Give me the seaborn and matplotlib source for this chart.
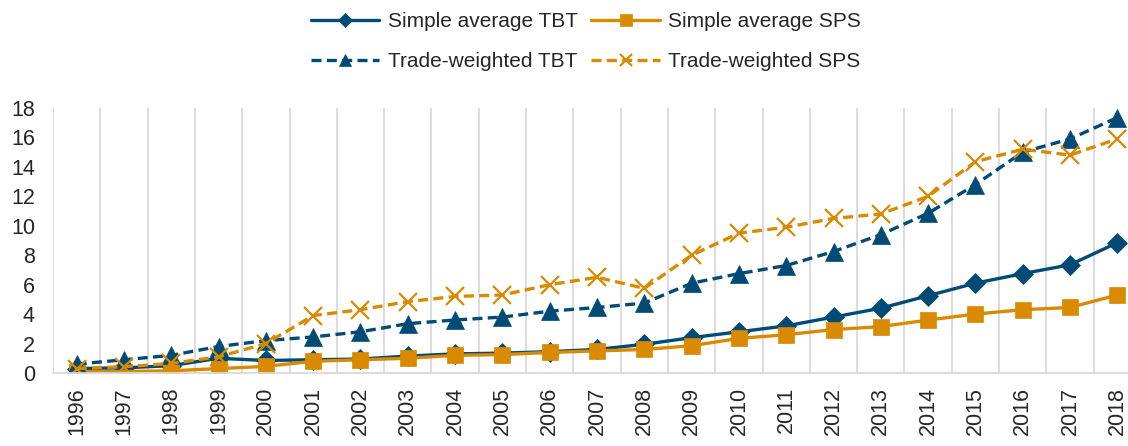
import pandas as pd
import matplotlib
matplotlib.use("Agg")
import matplotlib.pyplot as plt
import seaborn as sns

# ===============================
# DATA
# ===============================
years = [str(y) for y in range(1996, 2019)]
simple_tbt = [0.3, 0.35, 0.5, 1.0, 0.85, 0.9, 0.95, 1.15, 1.3, 1.35, 1.45, 1.6,
              1.95, 2.4, 2.8, 3.2, 3.8, 4.4, 5.25, 6.1, 6.75, 7.35, 8.85]
simple_sps = [0.1, 0.1, 0.15, 0.3, 0.45, 0.8, 0.9, 1.0, 1.2, 1.25, 1.4, 1.5,
              1.6, 1.85, 2.35, 2.6, 2.95, 3.15, 3.6, 4.0, 4.3, 4.45, 5.3]
tw_tbt = [0.6, 0.9, 1.2, 1.8, 2.2, 2.45, 2.8, 3.35, 3.6, 3.8, 4.2, 4.45,
          4.75, 6.1, 6.75, 7.3, 8.25, 9.4, 10.85, 12.8, 15.0, 15.9, 17.35]
tw_sps = [0.3, 0.43, 0.65, 1.1, 2.0, 3.9, 4.3, 4.85, 5.2, 5.3, 6.0, 6.5,
          5.75, 8.0, 9.5, 9.9, 10.5, 10.8, 12.0, 14.35, 15.2, 14.8, 15.9]

series_names = ["Simple average TBT", "Simple average SPS",
                "Trade-weighted TBT", "Trade-weighted SPS"]

BLUE = "#004B75"
ORANGE = "#D98A00"

# ===============================
# STYLE
# ===============================
sns.set_style("white")
plt.rcParams["font.family"] = ["Liberation Sans", "DejaVu Sans"]
plt.rcParams["font.size"] = 15

fig = plt.figure(figsize=(11.28, 4.46), dpi=100)
W, H = 1128, 446
ax = fig.add_axes([53 / W, (H - 373) / H, (1141 - 53) / W, (373 - 108) / H])

pos = list(range(len(years)))
styles = [
    (simple_tbt, BLUE, "D", 10, "-"),
    (simple_sps, ORANGE, "s", 12, "-"),
    (tw_tbt, BLUE, "^", 13, (3, 1.6)),
    (tw_sps, ORANGE, "x", 13, (3, 1.6)),
]

for name, (vals, col, mk, ms, ls) in zip(series_names, styles):
    df = pd.DataFrame({"x": pos, "y": vals})
    sns.lineplot(data=df, x="x", y="y", ax=ax, color=col, marker=mk,
                 markersize=ms, markeredgecolor=col,
                 markeredgewidth=1.6 if mk == "x" else 0.5,
                 linewidth=2.4, label=name)
    if ls != "-":
        ax.lines[-1].set_dashes(ls)

ax.set_ylim(0, 18)
ax.set_yticks(range(0, 19, 2))
ax.set_xlim(-0.5, 22.5)
ax.set_xticks(pos)
ax.set_xticklabels(years, rotation=90, fontsize=15.5)
ax.set_xticks([p - 0.5 for p in pos] + [22.5], minor=True)
ax.grid(False)
ax.grid(True, which="minor", axis="x", color="#d9d9d9", linewidth=1.3)
ax.tick_params(axis="both", which="both", length=0)
ax.tick_params(axis="y", pad=13, labelsize=15.5)
ax.tick_params(axis="x", pad=10)
ax.set_xlabel("")
ax.set_ylabel("")
for s in ["top", "right", "left"]:
    ax.spines[s].set_visible(False)
ax.spines["bottom"].set_color("#d9d9d9")
ax.spines["bottom"].set_linewidth(1.3)

# legend: row 1 simple averages, row 2 trade-weighted
handles, labels = ax.get_legend_handles_labels()
ax.get_legend().remove()
order = [0, 2, 1, 3]
fig.legend([handles[i] for i in order], [labels[i] for i in order],
           loc="upper center", bbox_to_anchor=(586 / W, 1.015),
           ncol=2, frameon=False, fontsize=15, handlelength=3.3,
           handletextpad=0.4, columnspacing=0.65, labelspacing=1.0,
           markerscale=0.7)

fig.savefig("out.png", dpi=100)
